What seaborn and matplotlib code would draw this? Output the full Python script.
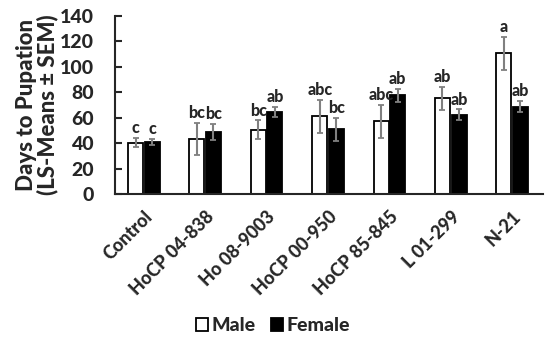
import matplotlib
matplotlib.use('Agg')
import matplotlib.pyplot as plt
import seaborn as sns
import pandas as pd

cultivares = ['Control', 'HoCP 04-838', 'Ho 08-9003', 'HoCP 00-950',
              'HoCP 85-845', 'L 01-299', 'N-21']
macho = [40.5, 43.3, 50.6, 61.1, 57.1, 75.3, 110.7]
macho_sem = [3.5, 12.8, 7.3, 13.0, 12.8, 9.0, 13.0]
femea = [41.0, 48.8, 64.5, 51.1, 77.6, 62.2, 68.7]
femea_sem = [2.5, 6.6, 3.7, 9.0, 5.0, 4.3, 4.3]
letras_macho = ['c', 'bc', 'bc', 'abc', 'abc', 'ab', 'a']
letras_femea = ['c', 'bc', 'ab', 'bc', 'ab', 'ab', 'ab']

tabela = pd.DataFrame({
    'Cultivar': cultivares * 2,
    'Sexo': ['Male'] * len(cultivares) + ['Female'] * len(cultivares),
    'Dias': macho + femea,
})

sns.set_style('ticks')
plt.rcParams['font.family'] = ['Lato', 'DejaVu Sans']
peso = 'black'

fig, ax = plt.subplots(figsize=(5.5, 3.41), dpi=100)
fig.subplots_adjust(left=0.209, right=0.987, top=0.953, bottom=0.431)

sns.barplot(data=tabela, x='Cultivar', y='Dias', hue='Sexo',
            palette={'Male': 'white', 'Female': 'black'},
            edgecolor='black', linewidth=1.3, width=0.54, gap=0.1,
            errorbar=None, ax=ax)

# barras na ordem: machos depois femeas
barras = [p for p in ax.patches if p.get_height() > 0]
medias = macho + femea
sems = macho_sem + femea_sem
letras = letras_macho + letras_femea
for barra, m, s, l in zip(barras, medias, sems, letras):
    x = barra.get_x() + barra.get_width() / 2
    ax.errorbar(x, m, yerr=s, color='#808080', capsize=2, elinewidth=1.5,
                capthick=1.3, zorder=5)
    ax.text(x, m + s + 1.5, l, ha='center', va='bottom', fontsize=11.5,
            fontweight=peso)

ax.set_ylim(0, 140)
ax.set_yticks(range(0, 141, 20))
ax.set_xlim(-0.47, 6.5)
ax.set_ylabel('Days to Pupation\n(LS-Means ± SEM)', fontsize=16,
              fontweight=peso, labelpad=1, linespacing=1.0)
ax.set_xlabel('')
ax.tick_params(axis='y', direction='in', length=5, width=1.5, pad=15,
               labelsize=14)
ax.tick_params(axis='x', length=0, labelsize=13, pad=10)
plt.setp(ax.get_xticklabels(), rotation=45, ha='right',
         rotation_mode='anchor', fontweight=peso)
plt.setp(ax.get_yticklabels(), fontweight=peso)
for lado in ['top', 'right']:
    ax.spines[lado].set_visible(False)
ax.spines['left'].set_linewidth(1.5)
ax.spines['bottom'].set_linewidth(1.5)

ax.legend(loc='center', bbox_to_anchor=(0.37, -0.74), ncol=2, frameon=False,
          prop={'size': 14, 'weight': peso}, handlelength=0.6,
          handleheight=0.6, handletextpad=0.2, columnspacing=0.8)

fig.savefig('out.png', dpi=100)
